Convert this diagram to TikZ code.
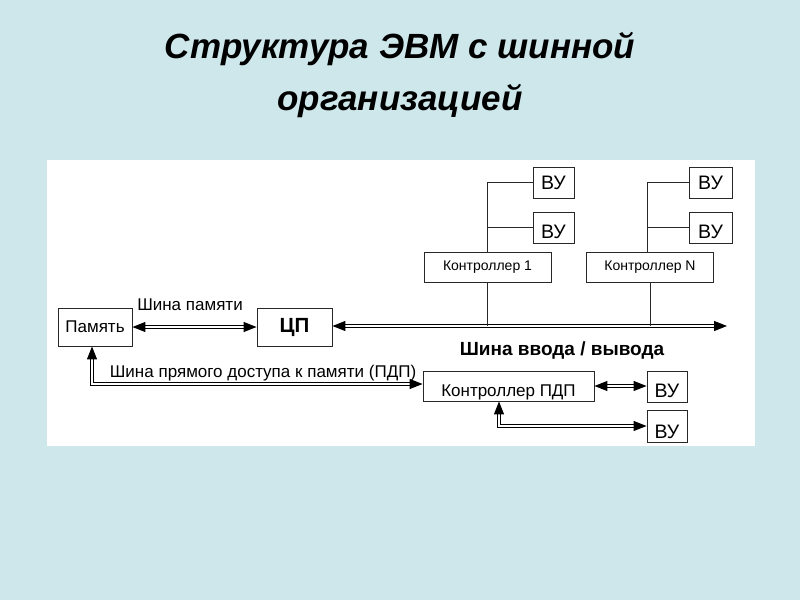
\documentclass[tikz,border=0pt]{standalone}
\usepackage{fontspec}
\setmainfont{Liberation Sans}
\usepackage{xcolor}
\definecolor{slidebg}{RGB}{205,231,235}
\definecolor{boxline}{RGB}{40,40,40}
\usetikzlibrary{arrows.meta}

\begin{document}
\begin{tikzpicture}[x=1pt, y=-1pt,
  box/.style={draw=boxline, line width=0.9pt, fill=white, inner sep=0pt, font=\fontsize{17}{19}\selectfont},
  vubox/.style={box, minimum width=41, minimum height=31, font=\fontsize{19.5}{21}\selectfont},
  lowtext/.style={text height=21pt, text depth=0pt},
  ctrl/.style={box, minimum width=127, minimum height=30, font=\fontsize{14}{16}\selectfont},
  bus/.style={draw=black, double=white, double distance=2.4pt, line width=1pt, {Triangle[length=13pt,width=10pt]}-{Triangle[length=13pt,width=10pt]}},
  link/.style={draw=boxline, line width=0.9pt}
]
\fill[slidebg] (0,0) rectangle (800,600);
\fill[white] (47,160) rectangle (755,446);
\node[font=\fontsize{35}{52}\selectfont\bfseries\itshape, align=center] (title) at (400,75) {Структура ЭВМ с шинной\\организацией};
\node[box, minimum width=74, minimum height=38] (mem) at (95,327) {Память};
\node[box, minimum width=75, minimum height=38, font=\fontsize{20.5}{22}\selectfont\bfseries] (cpu) at (294.5,327) {ЦП};
\node[ctrl] (ctrl1) at (487.5,267) {Контроллер 1\hspace{8pt}};
\node[ctrl] (ctrlN) at (650,267) {Контроллер N\hspace{8pt}};
\node[vubox] (vu1a) at (553.5,182.5) {ВУ};
\node[vubox, lowtext] (vu1b) at (553.5,227.5) {ВУ};
\node[vubox, minimum width=43] (vuNa) at (710.5,182.5) {ВУ};
\node[vubox, minimum width=43, lowtext] (vuNb) at (710.5,227.5) {ВУ};
\node[box, minimum width=171, minimum height=30, lowtext] (dma) at (508.5,386) {Контроллер ПДП};
\node[vubox, minimum width=40, lowtext] (vud1) at (667,386.5) {ВУ};
\node[vubox, minimum width=40, minimum height=32, text height=25pt, text depth=0pt] (vud2) at (667,426) {ВУ};
\coordinate (busend) at (727,326);
\node[font=\fontsize{17}{19}\selectfont] (memlbl) at (190,305) {Шина памяти};
\node[font=\fontsize{19}{21}\selectfont\bfseries] (iolbl) at (562,351) {Шина ввода / вывода};
\node[font=\fontsize{17}{19}\selectfont] (dmalbl) at (263,373) {Шина прямого доступа к памяти (ПДП)};
\draw[bus] (mem.east) -- (cpu.west);
\draw[bus] (cpu.east |- busend) -- (busend);
\draw[link] (ctrl1.south) -- (ctrl1.south |- busend);
\draw[link] (ctrlN.south) -- (ctrlN.south |- busend);
\draw[link] (ctrl1.north) -- (ctrl1.north |- vu1a.west) -- (vu1a.west);
\draw[link] (ctrl1.north |- vu1b.west) -- (vu1b.west);
\draw[link] ([xshift=-3pt]ctrlN.north) -- ([xshift=-3pt]ctrlN.north |- vuNa.west) -- (vuNa.west);
\draw[link] ([xshift=-3pt]ctrlN.north |- vuNb.west) -- (vuNb.west);
\draw[bus] ([xshift=-3pt]mem.south) |- ([yshift=2pt]dma.west);
\draw[bus] (dma.east) -- (dma.east -| vud1.west);
\draw[bus] ([xshift=-9.5pt]dma.south) |- (vud2.west);
\end{tikzpicture}
\end{document}
